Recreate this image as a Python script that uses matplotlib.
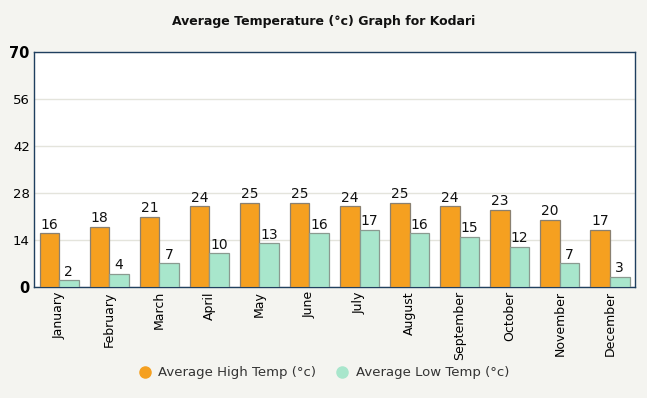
import numpy as np
import matplotlib.pyplot as plt
from matplotlib.lines import Line2D

months = ['January', 'February', 'March', 'April', 'May', 'June', 'July',
          'August', 'September', 'October', 'November', 'December']
high_temp = [16, 18, 21, 24, 25, 25, 24, 25, 24, 23, 20, 17]
low_temp = [2, 4, 7, 10, 13, 16, 17, 16, 15, 12, 7, 3]
yticks = [0, 14, 28, 42, 56, 70]

orange = '#f5a020'
mint = '#a8e6cc'
bg = '#f4f4f0'

fig = plt.figure(figsize=(6.47, 3.98), dpi=100, facecolor=bg)
ax = fig.add_axes([0.0526, 0.2789, 0.9289, 0.5904])
ax.set_facecolor('white')

x = np.arange(len(months))
w = 0.39
b1 = ax.bar(x - w / 2, high_temp, w, color=orange, edgecolor='#8a8070', linewidth=0.9, zorder=3)
b2 = ax.bar(x + w / 2, low_temp, w, color=mint, edgecolor='#8a9a90', linewidth=0.9, zorder=3)
for rect, v in zip(b1, high_temp):
    ax.text(rect.get_x() + rect.get_width() / 2, v + 0.5, str(v), ha='center', va='bottom', fontsize=10, color='#111111')
for rect, v in zip(b2, low_temp):
    ax.text(rect.get_x() + rect.get_width() / 2, v + 0.5, str(v), ha='center', va='bottom', fontsize=10, color='#111111')

ax.set_xlim(-0.5, len(months) - 0.5)
ax.set_ylim(0, 70)
ax.set_yticks(yticks)
ax.set_yticklabels([str(t) for t in yticks], fontsize=9.5)
for lab in ax.get_yticklabels():
    if lab.get_text() in ('0', '70'):
        lab.set_fontweight('bold')
        lab.set_fontsize(10.5)
ax.set_xticks(x)
ax.set_xticklabels(months, rotation=90, fontsize=9)
ax.tick_params(axis='y', length=0, pad=3)
ax.tick_params(axis='x', length=0, pad=3)
ax.grid(axis='y', color='#e4e4dc', linewidth=1, zorder=0)
for s in ax.spines.values():
    s.set_color('#1f3f5f')
    s.set_linewidth(1)

fig.text(0.5, 0.945, 'Average Temperature (°c) Graph for Kodari', ha='center', va='center',
         fontsize=9, fontweight='bold', color='#111111')

handles = [Line2D([], [], marker='o', linestyle='', color=orange, markersize=8),
           Line2D([], [], marker='o', linestyle='', color=mint, markersize=8)]
fig.legend(handles, ['Average High Temp (°c)', 'Average Low Temp (°c)'], loc='center',
           bbox_to_anchor=(0.495, 0.063), ncol=2, frameon=False, fontsize=9.5,
           handletextpad=0.0, columnspacing=1.0, labelcolor='#333333')

fig.savefig('out.png', dpi=100, facecolor=bg)
